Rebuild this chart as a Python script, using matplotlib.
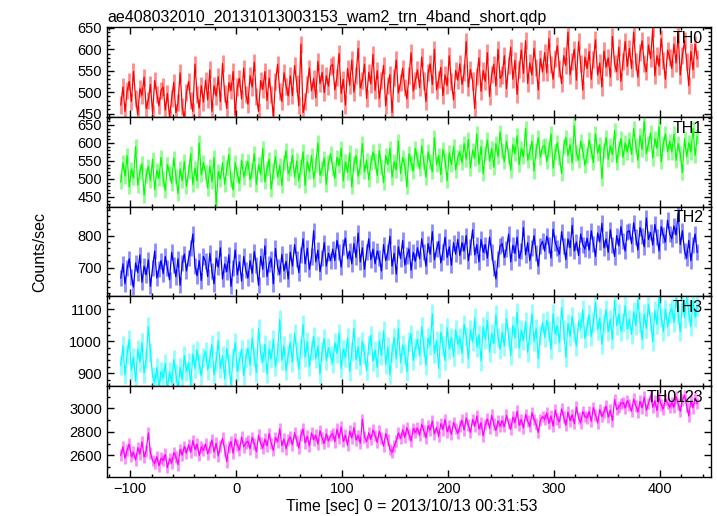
import numpy as np
import matplotlib
matplotlib.use("Agg")
import matplotlib.pyplot as plt
from matplotlib.ticker import MultipleLocator

plt.rcParams['font.family'] = ['Liberation Sans', 'DejaVu Sans']

# Data (2 s bins starting at t = -109 s)
t_start = -109
bin_width = 2.0

th0 = [470, 512, 455, 503, 525, 478, 548, 486, 447, 508, 493, 535, 462, 481, 518, 450, 527, 495, 468, 504,
       512, 458, 497, 440, 485, 523, 452, 475, 545, 466, 437, 500, 525, 480, 455, 565, 494, 463, 515, 477,
       528, 482, 552, 455, 515, 491, 536, 478, 567, 497, 462, 522, 504, 548, 447, 512, 532, 484, 556, 495,
       472, 538, 512, 570, 489, 455, 527, 506, 548, 480, 533, 494, 445, 524, 565, 502, 478, 545, 514, 491,
       538, 492, 562, 520, 468, 612, 452, 478, 517, 556, 503, 532, 487, 572, 520, 546, 499, 538, 514, 560,
       565, 505, 535, 590, 497, 530, 470, 555, 516, 575, 500, 538, 602, 510, 528, 565, 485, 546, 519, 588,
       504, 550, 485, 527, 562, 468, 516, 541, 452, 534, 575, 498, 522, 556, 510, 484, 538, 592, 503, 528,
       552, 510, 582, 526, 478, 545, 566, 518, 600, 505, 530, 558, 492, 540, 515, 585, 524, 482, 551, 528,
       566, 518, 545, 618, 512, 553, 526, 462, 537, 580, 502, 550, 525, 592, 490, 541, 565, 514, 600, 532,
       540, 585, 508, 562, 605, 530, 574, 495, 553, 598, 544, 620, 520, 568, 540, 602, 558, 505, 578, 547,
       592, 545, 625, 564, 530, 578, 608, 556, 520, 585, 562, 640, 540, 572, 600, 528, 618, 566, 505, 582,
       555, 595, 530, 576, 622, 540, 568, 512, 596, 558, 580, 535, 630, 566, 548, 605, 525, 572, 618, 560,
       602, 555, 640, 572, 535, 592, 620, 566, 548, 610, 578, 648, 538, 585, 560, 625, 574, 530, 598, 580,
       555, 612, 568, 635, 540, 586, 620, 572, 515, 595, 552, 612, 578]

th1 = [492, 545, 508, 565, 478, 527, 503, 590, 483, 520, 542, 455, 510, 535, 495, 555, 470, 524, 502, 560,
       500, 468, 540, 515, 488, 558, 507, 460, 528, 495, 548, 480, 520, 570, 485, 530, 495, 600, 512, 545,
       518, 475, 535, 492, 560, 428, 520, 500, 545, 485, 528, 568, 498, 470, 545, 512, 488, 552, 505, 532,
       548, 498, 525, 570, 485, 540, 512, 585, 492, 530, 555, 472, 522, 562, 505, 538, 482, 546, 578, 515,
       528, 565, 505, 550, 495, 535, 575, 482, 548, 520, 565, 500, 540, 600, 510, 530, 558, 485, 545, 570,
       530, 502, 560, 538, 585, 495, 548, 518, 572, 478, 542, 565, 508, 535, 598, 520, 552, 498, 545, 575,
       550, 510, 578, 535, 490, 565, 540, 585, 505, 548, 525, 605, 515, 560, 538, 478, 570, 545, 522, 585,
       555, 528, 592, 545, 505, 575, 548, 520, 615, 540, 565, 512, 582, 552, 495, 572, 540, 590, 525, 560,
       575, 545, 598, 555, 610, 530, 580, 558, 625, 540, 590, 515, 570, 608, 550, 585, 532, 598, 562, 630,
       578, 548, 605, 565, 525, 595, 570, 620, 540, 585, 562, 640, 552, 575, 605, 522, 580, 615, 560, 590,
       592, 548, 582, 625, 530, 575, 600, 560, 515, 590, 615, 565, 595, 545, 648, 572, 552, 605, 578, 538,
       565, 608, 580, 545, 625, 572, 595, 502, 580, 615, 555, 592, 568, 635, 545, 585, 612, 560, 600, 575,
       610, 568, 640, 592, 552, 620, 582, 660, 570, 598, 628, 558, 612, 585, 645, 548, 598, 625, 575, 605,
       575, 625, 552, 598, 570, 518, 612, 562, 600, 575, 640, 565, 618]

th2 = [668, 712, 650, 698, 728, 672, 640, 715, 685, 740, 655, 705, 678, 725, 642, 700, 752, 668, 695, 722,
       682, 735, 698, 662, 748, 708, 672, 728, 645, 715, 742, 690, 730, 760, 805, 705, 675, 722, 660, 735,
       720, 672, 745, 690, 650, 730, 702, 762, 665, 712, 688, 740, 642, 700, 755, 678, 718, 658, 735, 692,
       668, 722, 682, 750, 708, 645, 735, 695, 768, 672, 712, 728, 650, 760, 702, 680, 742, 690, 720, 665,
       748, 705, 772, 728, 685, 740, 790, 712, 760, 695, 735, 815, 718, 755, 688, 730, 778, 705, 745, 722,
       758, 722, 785, 748, 702, 765, 792, 728, 752, 712, 775, 732, 808, 718, 762, 695, 748, 790, 725, 758,
       712, 752, 730, 690, 772, 722, 748, 798, 705, 745, 680, 765, 728, 785, 708, 738, 758, 692, 748, 720,
       762, 728, 790, 748, 705, 775, 742, 812, 725, 758, 782, 715, 750, 795, 732, 765, 708, 778, 742, 788,
       738, 778, 752, 800, 722, 765, 818, 740, 772, 718, 788, 748, 772, 730, 795, 750, 700, 665, 728, 768,
       775, 732, 758, 805, 718, 770, 745, 795, 730, 752, 825, 740, 778, 722, 762, 800, 745, 705, 768, 782,
       752, 798, 772, 730, 820, 778, 760, 742, 812, 768, 725, 790, 762, 832, 752, 780, 738, 805, 772, 758,
       792, 755, 815, 775, 735, 808, 780, 838, 762, 790, 748, 818, 772, 735, 800, 768, 828, 782, 752, 812,
       815, 775, 840, 795, 755, 825, 798, 765, 855, 788, 810, 770, 835, 795, 752, 828, 802, 780, 848, 805,
       790, 830, 802, 870, 772, 815, 752, 730, 785, 722, 770, 805, 748]

th3 = [925, 985, 895, 960, 1005, 910, 950, 875, 975, 935, 995, 900, 945, 1045, 965, 890, 872, 918, 858, 905,
       885, 930, 850, 905, 870, 942, 898, 845, 918, 880, 955, 905, 932, 862, 960, 915, 972, 930, 892, 948,
       968, 910, 945, 990, 895, 938, 1002, 915, 955, 882, 978, 930, 862, 950, 995, 905, 940, 975, 892, 950,
       978, 925, 1010, 952, 902, 1040, 962, 935, 990, 898, 975, 945, 1005, 920, 965, 1068, 940, 985, 908, 958,
       995, 935, 1025, 968, 912, 978, 1052, 950, 998, 922, 972, 1015, 945, 985, 898, 968, 1008, 940, 980, 955,
       932, 995, 962, 1025, 915, 975, 950, 1010, 905, 968, 1040, 942, 982, 925, 1000, 960, 908, 988, 1018, 938,
       972, 918, 1002, 955, 1032, 928, 982, 895, 965, 1012, 945, 1040, 932, 988, 960, 905, 1000, 1022, 940, 978,
       1005, 955, 1045, 982, 925, 1010, 988, 1085, 962, 1002, 915, 1028, 985, 940, 1042, 975, 1012, 952, 1035, 990,
       1010, 962, 1052, 1015, 945, 1035, 998, 1072, 982, 1020, 938, 1045, 1005, 1065, 965, 1025, 992, 1082, 1012, 975,
       1028, 985, 1070, 1015, 955, 1050, 1010, 1090, 978, 1035, 1002, 1060, 965, 1022, 1085, 1000, 1040, 945, 1018, 1058,
       1012, 1065, 1032, 975, 1085, 1022, 1048, 995, 1105, 1035, 950, 1055, 1015, 1078, 1028, 985, 1062, 1040, 1098, 1008,
       1045, 1082, 1015, 1060, 1120, 1035, 1072, 990, 1055, 1098, 1030, 1068, 1005, 1128, 1048, 1085, 1032, 1058, 1110, 1038,
       1068, 1022, 1092, 1048, 1130, 1060, 1005, 1085, 1040, 1115, 1062, 998, 1095, 1052, 1138, 1075, 1030, 1100, 1045, 1088,
       1102, 1058, 1135, 1085, 1030, 1118, 1072, 1140, 1090, 1045, 1125, 1075, 1110]

th0123 = [2600, 2672, 2575, 2648, 2695, 2590, 2625, 2560, 2665, 2612, 2715, 2585, 2638, 2790, 2622, 2555, 2530, 2590, 2510, 2575,
          2555, 2608, 2495, 2572, 2535, 2622, 2588, 2520, 2650, 2602, 2675, 2618, 2690, 2625, 2725, 2648, 2695, 2598, 2672, 2642,
          2695, 2612, 2668, 2730, 2628, 2702, 2595, 2680, 2745, 2648, 2545, 2672, 2718, 2618, 2738, 2688, 2645, 2755, 2672, 2705,
          2720, 2655, 2752, 2695, 2630, 2770, 2702, 2660, 2738, 2680, 2785, 2700, 2642, 2752, 2715, 2825, 2682, 2738, 2655, 2728,
          2755, 2690, 2792, 2725, 2660, 2772, 2825, 2705, 2762, 2680, 2790, 2732, 2770, 2695, 2810, 2745, 2702, 2782, 2722, 2768,
          2785, 2715, 2822, 2745, 2840, 2718, 2772, 2685, 2805, 2748, 2835, 2730, 2768, 2702, 2905, 2758, 2715, 2792, 2735, 2815,
          2768, 2710, 2805, 2745, 2678, 2785, 2728, 2650, 2625, 2680, 2722, 2790, 2742, 2818, 2752, 2835, 2778, 2722, 2828, 2795,
          2832, 2770, 2865, 2805, 2748, 2850, 2815, 2892, 2782, 2838, 2760, 2870, 2818, 2905, 2800, 2852, 2778, 2880, 2828, 2785,
          2848, 2898, 2815, 2918, 2858, 2795, 2905, 2845, 2935, 2822, 2878, 2765, 2862, 2910, 2830, 2940, 2865, 2812, 2892, 2850,
          2895, 2845, 2940, 2870, 2822, 2925, 2880, 2975, 2855, 2905, 2832, 2948, 2890, 2845, 2962, 2905, 2865, 2795, 2898, 2930,
          2905, 2962, 2872, 2935, 2848, 2985, 2912, 2885, 2995, 2925, 2855, 2968, 2895, 2945, 2870, 3010, 2918, 2878, 2972, 2930,
          2918, 2972, 2890, 3005, 2945, 2875, 2990, 2930, 2968, 3018, 2925, 2985, 2895, 3075, 2990, 3010, 3040, 3050, 3005, 3065,
          3030, 2975, 3078, 3022, 2968, 3060, 3005, 3095, 2985, 3040, 3110, 3008, 3065, 2980, 3092, 3030, 2995, 3082, 3045, 3008,
          3050, 3010, 3098, 3035, 2975, 3072, 3110, 3020, 2935, 3062, 3005, 3088, 3042]

names = ['TH0', 'TH1', 'TH2', 'TH3', 'TH0123']
series = [th0, th1, th2, th3, th0123]
errors = [20, 21, 25, 30, 50]
colors = ['#ff0000', '#00ff00', '#0000ff', '#00ffff', '#ff00ff']
ylims = [(442, 652), (423, 672), (612, 890), (860, 1141), (2415, 3190)]
major = [50, 50, 100, 100, 200]
minor = [10, 10, 20, 20, 100]

W, H = 717, 516
fig = plt.figure(figsize=(W / 100, H / 100), dpi=100)

left_px, right_px = 107, 711
edges_px = [27, 117, 206.7, 296, 386, 477]

for k in range(5):
    top, bot = edges_px[k], edges_px[k + 1]
    ax = fig.add_axes([left_px / W, 1 - bot / H, (right_px - left_px) / W, (bot - top) / H])
    vals = np.array(series[k], dtype=float)
    t = t_start + bin_width * np.arange(len(vals))
    # error bars (light, wide enough to touch) then the light curve
    ax.vlines(t, vals - errors[k], vals + errors[k], color=colors[k], alpha=0.45, lw=2.0)
    ax.plot(t, vals, color=colors[k], lw=0.9)
    ax.set_xlim(-122, 448)
    ax.set_ylim(*ylims[k])
    ax.xaxis.set_major_locator(MultipleLocator(100))
    ax.xaxis.set_minor_locator(MultipleLocator(20))
    ax.yaxis.set_major_locator(MultipleLocator(major[k]))
    ax.yaxis.set_minor_locator(MultipleLocator(minor[k]))
    ax.tick_params(which='both', direction='in', top=True, right=True, labelsize=10.5, width=1.0)
    ax.tick_params(which='major', length=5)
    ax.tick_params(which='minor', length=2.5)
    for sp in ax.spines.values():
        sp.set_linewidth(1.0)
    if k < 4:
        ax.tick_params(labelbottom=False)
    ax.text(0.987, 0.96, names[k], transform=ax.transAxes, ha='right', va='top', fontsize=11.5)

fig.text(left_px / W, 1 - 22 / H, 'ae408032010_20131013003153_wam2_trn_4band_short.qdp',
         ha='left', va='baseline', fontsize=11.5)
fig.text(40 / W, 1 - 252 / H, 'Counts/sec', rotation=90, ha='center', va='center', fontsize=11.5)
fig.text(412 / W, 1 - 506 / H, 'Time [sec] 0 = 2013/10/13 00:31:53', ha='center', va='center', fontsize=11.5)

fig.savefig('out.png', dpi=100)
